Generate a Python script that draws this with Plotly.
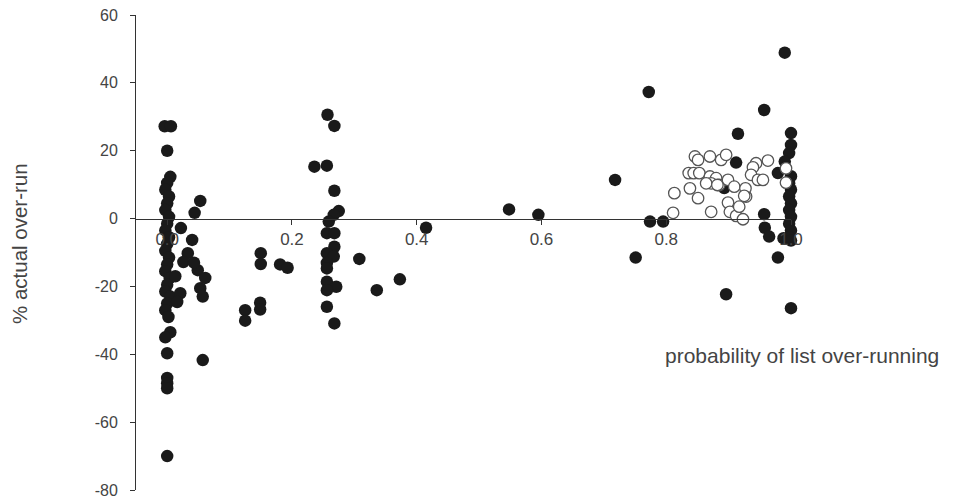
import plotly.graph_objects as go

# Filled (black) points: probability of list over-running vs % actual over-run
filled_x = [
    -0.004, 0.006, 0.0, 0.005,
    0.0, -0.003, 0.003, 0.0, -0.003, 0.003, 0.0, -0.003, 0.003, 0.0, -0.003, 0.003,
    0.0, -0.003, 0.004, 0.0, -0.003, 0.005, 0.0, -0.003, 0.002, 0.005, -0.003, 0.0,
    0.0, 0.0, 0.0, 0.0,
    0.053, 0.044, 0.022, 0.040, 0.033, 0.026, 0.049, 0.061, 0.053, 0.057, 0.013,
    0.021, 0.016, 0.057, 0.043,
    0.150, 0.150, 0.181, 0.193, 0.125, 0.125, 0.149, 0.149,
    0.236, 0.257, 0.268, 0.256, 0.268, 0.275, 0.267, 0.259, 0.256, 0.268, 0.268,
    0.256, 0.267, 0.256, 0.256, 0.256, 0.271, 0.256, 0.256, 0.268,
    0.308, 0.336, 0.373, 0.415,
    0.548, 0.595, 0.718, 0.751, 0.772, 0.774, 0.795,
    0.893, 0.912, 0.915, 0.896, 0.957, 0.990,
    0.979, 0.957, 0.958, 0.965, 0.988, 0.979, 1.0,
    1.0, 1.0, 0.997, 0.990, 1.0, 0.997, 1.0, 0.997, 1.0, 0.997, 1.0, 0.997, 1.0,
    0.997, 1.0,
]
filled_y = [
    27.2, 27.2, 20.0, 12.3,
    10.5, 8.5, 6.5, 4.5, 2.5, 0.5, -1.5, -3.5, -5.5, -7.5, -9.5, -11.5,
    -13.5, -15.5, -17.5, -19.5, -21.5, -23.0, -25.0, -27.0, -29.0, -33.5, -35.0, -39.7,
    -47.0, -48.5, -50.0, -70.0,
    5.2, 1.7, -2.8, -6.3, -10.2, -12.8, -15.2, -17.5, -20.5, -23.0, -17.0,
    -22.0, -24.6, -41.7, -13.0,
    -10.2, -13.4, -13.5, -14.5, -27.0, -30.1, -24.8, -26.8,
    15.3, 30.6, 27.3, 15.6, 8.2, 2.2, 1.1, -0.9, -4.3, -4.3, -8.3,
    -10.2, -11.2, -13.1, -14.7, -18.6, -20.1, -21.1, -26.0, -30.9,
    -11.9, -21.1, -17.9, -2.7,
    2.7, 1.1, 11.4, -11.5, 37.3, -0.9, -0.9,
    9.0, 16.5, 25.0, -22.3, 32.0, 48.9,
    13.4, 1.3, -2.7, -5.3, -5.8, -11.5, -26.4,
    25.2, 21.7, 19.3, 16.8, 12.5, 10.4, 8.5, 6.5, 4.5, 2.5, 0.5, -1.5, -3.5,
    -5.5, -6.5,
]

# Open (white) points
open_x = [
    0.811, 0.813, 0.838, 0.851, 0.846, 0.851, 0.870, 0.888, 0.896, 0.836, 0.844,
    0.853, 0.870, 0.880, 0.872, 0.885, 0.899, 0.909, 0.899, 0.872, 0.902, 0.912,
    0.923, 0.917, 0.928, 0.927, 0.944, 0.963, 0.939, 0.936, 0.947, 0.955, 0.925,
    0.992, 0.992, 0.864, 0.882,
]
open_y = [
    1.7, 7.5, 8.9, 6.0, 18.3, 17.3, 18.3, 17.3, 18.8, 13.4, 13.4,
    13.4, 12.4, 11.9, 10.4, 9.9, 11.4, 9.4, 4.7, 2.0, 2.0, 0.8,
    -0.2, 3.5, 6.5, 8.9, 16.3, 17.1, 15.1, 12.9, 11.4, 11.4, 6.7,
    14.8, 10.6, 10.4, 9.9,
]

x_tickvals = [0.0, 0.2, 0.4, 0.6, 0.8, 1.0]
x_ticktext = ["0.0", "0.2", "0.4", "0.6", "0.8", "1.0"]
y_tickvals = [-80, -60, -40, -20, 0, 20, 40, 60]
y_ticktext = ["-80", "-60", "-40", "-20", "0", "20", "40", "60"]

y_title = "% actual over-run"
x_title = "probability of list over-running"

FONT = "Liberation Sans, Arial, sans-serif"

fig = go.Figure()
fig.add_trace(go.Scatter(
    x=filled_x, y=filled_y, mode="markers", cliponaxis=False,
    marker=dict(size=12.5, color="#1a1a1a", line=dict(width=0)),
))
fig.add_trace(go.Scatter(
    x=open_x, y=open_y, mode="markers", cliponaxis=False,
    marker=dict(size=11.5, color="white", line=dict(width=1.3, color="#555555")),
))

fig.update_layout(
    width=960, height=498,
    margin=dict(l=136, r=169, t=15, b=8, autoexpand=False),
    paper_bgcolor="white", plot_bgcolor="white",
    showlegend=False,
    font=dict(family=FONT, color="#404040"),
    xaxis=dict(
        range=[-0.05, 1.0], anchor="free", position=80 / 140,
        automargin=False,
        showline=True, linecolor="#333333", linewidth=1,
        ticks="outside", ticklen=5, tickcolor="#333333",
        tickvals=x_tickvals, ticktext=x_ticktext,
        tickfont=dict(size=17, family=FONT, color="#444444"),
        showgrid=False, zeroline=False,
    ),
    yaxis=dict(
        range=[-80, 60], automargin=False,
        showline=True, linecolor="#333333", linewidth=1,
        ticks="outside", ticklen=5, tickcolor="#333333",
        tickvals=y_tickvals, ticktext=y_ticktext,
        tickfont=dict(size=16, family=FONT, color="#444444"),
        ticklabelstandoff=9, ticklabeloverflow="allow",
        showgrid=False, zeroline=False,
    ),
    annotations=[
        dict(text=y_title, xref="paper", yref="paper", x=(20 - 136) / 655,
             y=(490 - 244) / 475, textangle=-90, showarrow=False,
             font=dict(size=20.5, family=FONT, color="#444444"),
             xanchor="center", yanchor="middle"),
        dict(text=x_title, xref="paper", yref="paper", x=(802 - 136) / 655,
             y=(490 - 355) / 475, showarrow=False,
             font=dict(size=21, family=FONT, color="#444444"),
             xanchor="center", yanchor="middle"),
    ],
)

fig.write_html(
    "out.html",
    config={"displayModeBar": False},
    post_script="document.body.style.margin='0';document.body.style.overflow='hidden';",
)
